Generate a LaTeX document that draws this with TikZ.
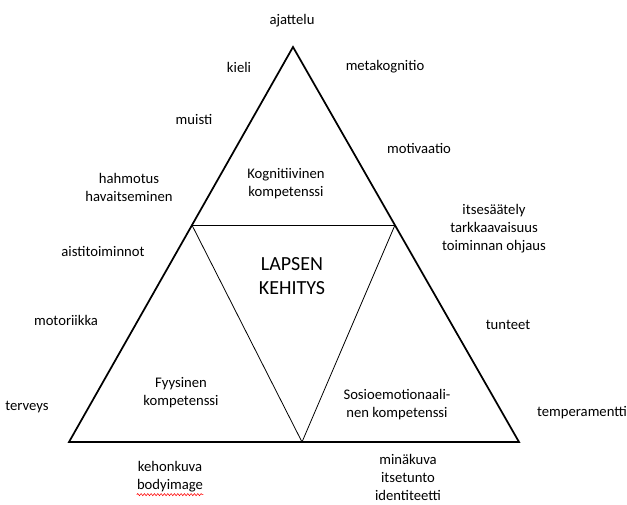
\documentclass[tikz,border=0pt]{standalone}
\usepackage{fontspec}
\setmainfont{Carlito}
\usetikzlibrary{calc,decorations.pathmorphing}
\begin{document}
\begin{tikzpicture}[x=0.75pt, y=-0.75pt,
    lbl/.style={align=center, font=\fontsize{11}{13.5}\selectfont, inner sep=0pt},
    big/.style={align=center, font=\fontsize{15}{18.5}\selectfont, inner sep=0pt},
    outer/.style={line width=1.3pt, line join=miter},
    inner/.style={line width=0.6pt}]
    \useasboundingbox (0,0) rectangle (627,504);

    % corners
    \coordinate (top) at (293,47);
    \coordinate (bl) at (69,442);
    \coordinate (br) at (519,442);
    \coordinate (il) at ($(top)!0.451!(bl)$);
    \coordinate (ir) at ($(top)!0.451!(br)$);
    \coordinate (ib) at (302,442);

    \draw[outer] (top) -- (bl) -- (br) -- cycle;
    \draw[inner] (il) -- (ir);
    \draw[inner] (il) -- (ib) -- (ir);

    % areas
    \node[lbl] (kogn) at (286,184) {Kognitiivinen\\kompetenssi};
    \node[big] (lapsen) at (292,276) {LAPSEN\\KEHITYS};
    \node[lbl] (fyys) at (181,393) {Fyysinen\\kompetenssi};
    \node[lbl] (sosio) at (397,405) {Sosioemotionaali-\\nen kompetenssi};

    % around
    \node[lbl] (ajattelu) at (292,21) {ajattelu};
    \node[lbl] (kieli) at (239,67) {kieli};
    \node[lbl] (meta) at (385,67) {metakognitio};
    \node[lbl] (muisti) at (194,119) {muisti};
    \node[lbl] (motiv) at (419,148) {motivaatio};
    \node[lbl] (hahm) at (129,187) {hahmotus\\havaitseminen};
    \node[lbl] (itse) at (494,229) {itsesäätely\\tarkkaavaisuus\\toiminnan ohjaus};
    \node[lbl] (aisti) at (103,251) {aistitoiminnot};
    \node[lbl] (motor) at (66,320) {motoriikka};
    \node[lbl] (tunteet) at (508,325) {tunteet};
    \node[lbl] (terveys) at (27,407) {terveys};
    \node[lbl] (temp) at (582,413) {temperamentti};
    \node[lbl] (kehon) at (170,477) {kehonkuva\\bodyimage};
    \node[lbl] (mina) at (408,477) {minäkuva\\itsetunto\\identiteetti};

    \draw[red, line width=0.4pt, decorate, decoration={snake, amplitude=0.8pt, segment length=2.5pt}]
        ([yshift=-1.5pt]kehon.south west) -- ([yshift=-1.5pt]kehon.south east);
\end{tikzpicture}
\end{document}
